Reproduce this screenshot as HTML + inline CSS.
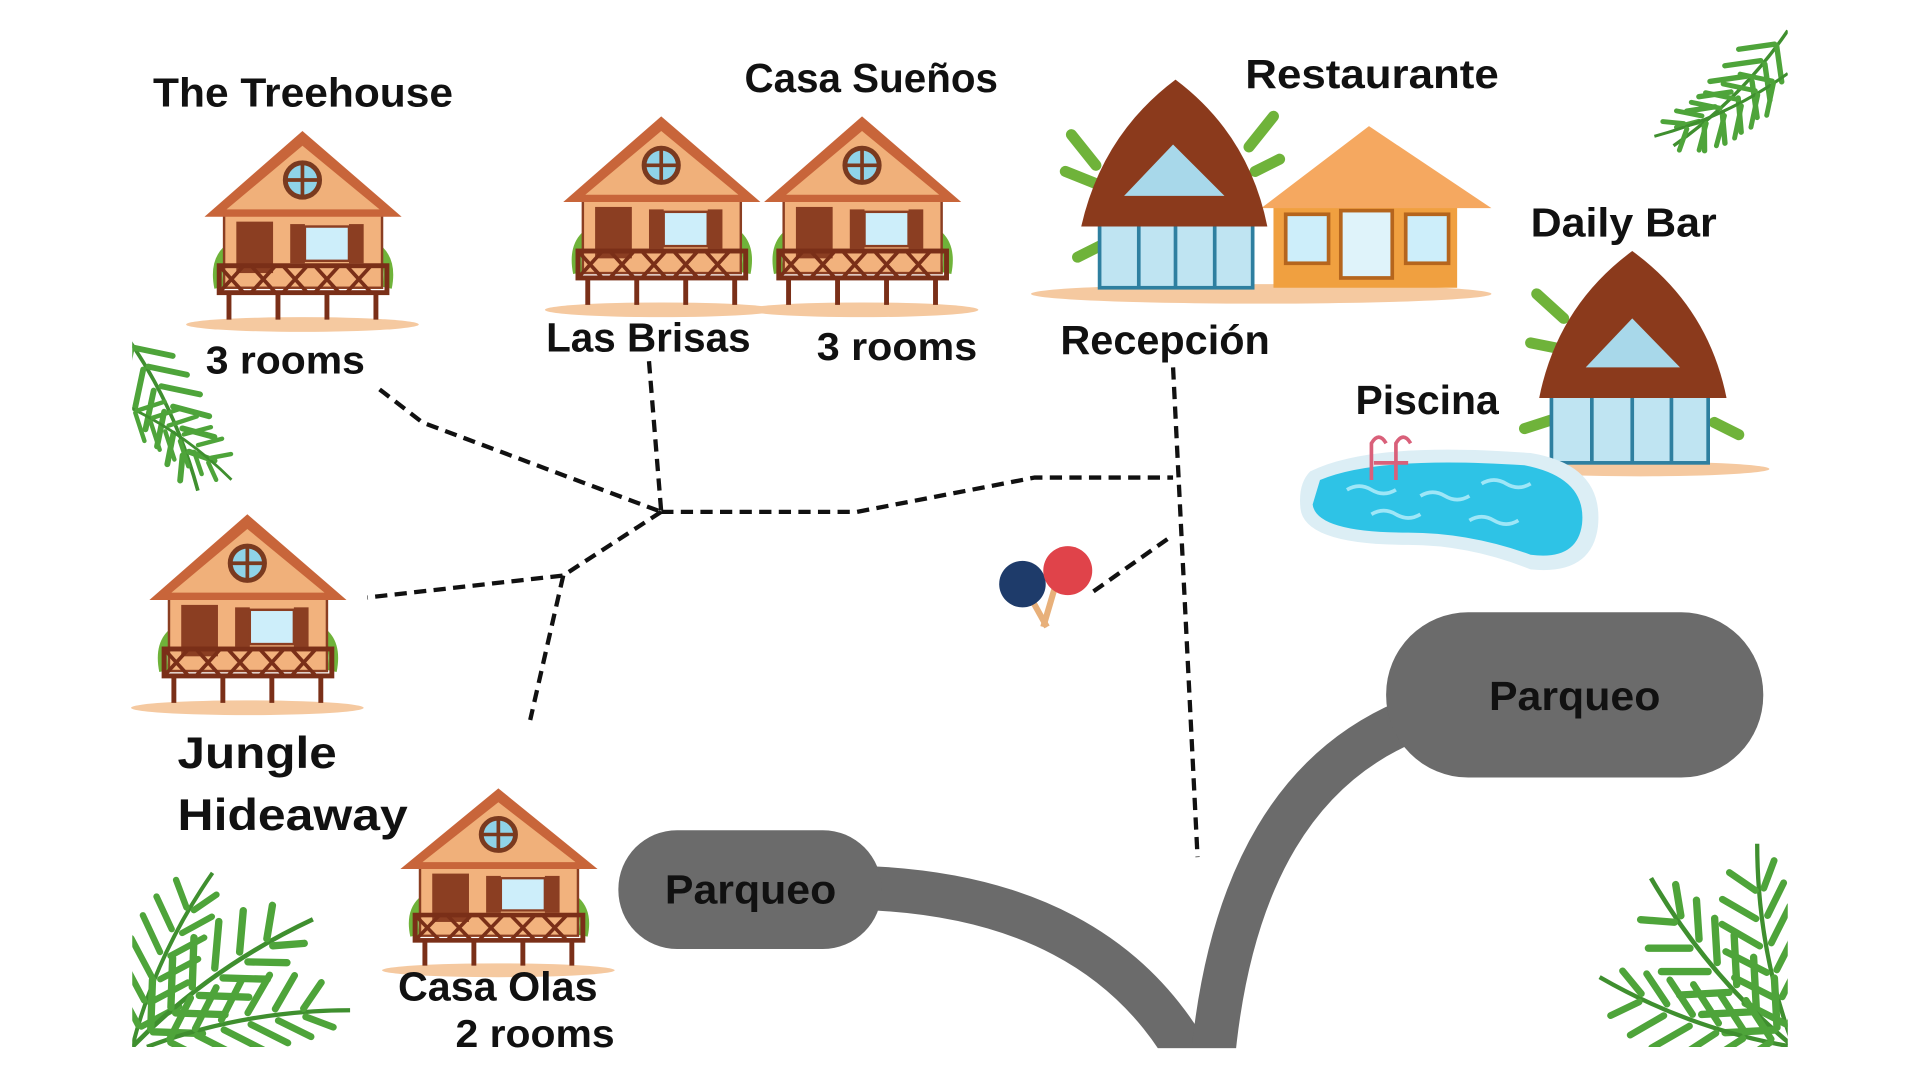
<!DOCTYPE html>
<html><head><meta charset="utf-8">
<style>
html,body{margin:0;padding:0;background:#fff;}
svg{display:block;}
text{font-family:"Liberation Sans",sans-serif;font-weight:bold;fill:#111;}
</style></head>
<body>
<svg width="1920" height="1080" viewBox="0 0 1568 882" xmlns="http://www.w3.org/2000/svg">
<defs>
  <clipPath id="frame"><rect x="108" y="20" width="1352" height="835"/></clipPath>
  <g id="house">
    <ellipse cx="82" cy="160" rx="95" ry="6" fill="#f5c9a0"/>
    <path d="M20 100 q-10 10 -6 30 M145 100 q10 10 6 30" stroke="#6fb33a" stroke-width="8" fill="none"/>
    <rect x="18" y="68" width="129" height="62" fill="#f2b27d" stroke="#8b3e22" stroke-width="2"/>
    <polygon points="82,2 2,72 163,72" fill="#c8653a"/>
    <polygon points="82,14 20,66 145,66" fill="#f0b07a"/>
    <circle cx="82" cy="42" r="14" fill="#8fd3e8" stroke="#7a3a1f" stroke-width="4"/>
    <path d="M68 42h28M82 28v28" stroke="#7a3a1f" stroke-width="3"/>
    <rect x="28" y="76" width="30" height="42" fill="#8b3e22"/>
    <rect x="72" y="78" width="12" height="32" fill="#8b3e22"/>
    <rect x="84" y="80" width="36" height="28" fill="#cdeefa" stroke="#8b3e22" stroke-width="2"/>
    <rect x="120" y="78" width="12" height="32" fill="#8b3e22"/>
    <rect x="14" y="112" width="137" height="22" fill="none" stroke="#7a2f18" stroke-width="4"/>
    <path d="M14 112l20 22M34 112l-20 22M40 112l20 22M60 112l-20 22M66 112l20 22M86 112l-20 22M92 112l20 22M112 112l-20 22M118 112l20 22M138 112l-20 22" stroke="#7a2f18" stroke-width="3"/>
    <path d="M22 134v22M62 134v22M102 134v22M142 134v22" stroke="#7a2f18" stroke-width="4"/>
  </g>
  <g id="frond">
    <path d="M0 0 Q60 -6 120 10" stroke="#3f8f2f" stroke-width="2.5" fill="none"/>
    <path d="M14 -1l18 -20M30 -3l18 -20M46 -4l18 -20M62 -4l18 -18M78 -2l16 -16M94 2l14 -12
             M14 1l20 18M30 1l20 18M46 2l20 18M62 3l18 16M78 5l16 14M94 7l14 10" stroke="#4ea43a" stroke-width="4" stroke-linecap="round"/>
  </g>
</defs>

<!-- palms -->
<g clip-path="url(#frame)">
<g transform="translate(1460,25) rotate(130) scale(1.1)"><use href="#frond"/></g>
<g transform="translate(1460,60) rotate(150)"><use href="#frond"/></g>
<g transform="translate(100,270) rotate(60) scale(1.2)"><use href="#frond"/></g>
<g transform="translate(100,330) rotate(30) scale(0.9)"><use href="#frond"/></g>
<g transform="translate(108,855) rotate(-70) scale(1.3)"><use href="#frond"/></g>
<g transform="translate(108,855) rotate(-40) scale(1.5)"><use href="#frond"/></g>
<g transform="translate(120,855) rotate(-15) scale(1.4)"><use href="#frond"/></g>
<g transform="translate(1465,855) rotate(-105) scale(1.4)"><use href="#frond"/></g>
<g transform="translate(1465,855) rotate(-135) scale(1.5)"><use href="#frond"/></g>
<g transform="translate(1465,855) rotate(-165) scale(1.4)"><use href="#frond"/></g>
</g>

<!-- houses -->
<use href="#house" x="165" y="105"/>
<use href="#house" x="458" y="93"/>
<use href="#house" x="622" y="93"/>
<use href="#house" x="120" y="418"/>
<use href="#house" transform="translate(325,642) scale(1,0.94)"/>

<!-- restaurant -->
<ellipse cx="1030" cy="240" rx="188" ry="8" fill="#f5c9a0"/>
<path d="M875 110l20 25M870 140l25 10M880 210l20-10M1040 95l-20 25M1045 130l-20 10" stroke="#6fb33a" stroke-width="9" stroke-linecap="round"/>
<rect x="1040" y="165" width="150" height="70" fill="#f0a040"/>
<polygon points="1118,103 1030,170 1218,170" fill="#f5a860"/>
<rect x="1050" y="175" width="35" height="40" fill="#cdeefa" stroke="#b5651d" stroke-width="3"/>
<rect x="1095" y="172" width="42" height="55" fill="#dff3fa" stroke="#b5651d" stroke-width="3"/>
<rect x="1148" y="175" width="35" height="40" fill="#cdeefa" stroke="#b5651d" stroke-width="3"/>
<rect x="898" y="175" width="125" height="60" fill="#bfe4f2" stroke="#2e7fa0" stroke-width="3"/>
<path d="M930 175v60M960 175v60M992 175v60" stroke="#2e7fa0" stroke-width="3"/>
<path d="M960 65 Q900 110 883 185 L1035 185 Q1020 110 960 65Z" fill="#8b3a1c"/>
<polygon points="958,118 918,160 1000,160" fill="#a8d8ea"/>
<!-- daily bar -->
<ellipse cx="1340" cy="383" rx="105" ry="6" fill="#f5c9a0"/>
<path d="M1255 240l22 20M1250 280l25 5M1245 350l25-8M1420 355l-20-10" stroke="#6fb33a" stroke-width="9" stroke-linecap="round"/>
<rect x="1267" y="318" width="128" height="60" fill="#bfe4f2" stroke="#2e7fa0" stroke-width="3"/>
<path d="M1300 318v60M1333 318v60M1365 318v60" stroke="#2e7fa0" stroke-width="3"/>
<path d="M1333 205 Q1272 250 1257 325 L1410 325 Q1395 250 1333 205Z" fill="#8b3a1c"/>
<polygon points="1333,260 1295,300 1372,300" fill="#a8d8ea"/>
<!-- pool -->
<path d="M1070 385 Q1120 360 1250 370 Q1310 380 1305 430 Q1300 470 1250 465 Q1200 445 1150 445 Q1065 445 1062 415 Q1060 395 1070 385Z" fill="#dceef5"/>
<path d="M1078 392 Q1125 372 1245 380 Q1296 390 1292 428 Q1288 458 1250 453 Q1200 435 1150 435 Q1075 435 1072 412Z" fill="#2ec3e6"/>
<path d="M1100 400q10-6 20 0q10 6 20 0M1160 405q10-6 20 0q10 6 20 0M1210 395q10-6 20 0q10 6 20 0M1120 420q10-6 20 0q10 6 20 0M1200 425q10-6 20 0q10 6 20 0" stroke="#9ee6f7" stroke-width="3" fill="none"/>
<path d="M1120 392v-30q6-10 12 0M1140 392v-30q6-10 12 0M1122 378h28" stroke="#d9607a" stroke-width="3" fill="none"/>
<!-- paddles -->
<line x1="840" y1="485" x2="855" y2="512" stroke="#e8b07a" stroke-width="5"/>
<line x1="862" y1="478" x2="852" y2="512" stroke="#e8b07a" stroke-width="5"/>
<circle cx="835" cy="477" r="19" fill="#1e3b6a"/>
<circle cx="872" cy="466" r="20" fill="#e0434a"/>

<!-- dashed connectors -->
<g stroke="#111" stroke-width="3.5" stroke-dasharray="10,6" fill="none">
  <path d="M310 318 L345 345 L540 418"/>
  <path d="M530 295 L540 418"/>
  <path d="M540 418 L700 418 L845 390 L958 390"/>
  <path d="M958 300 L978 700"/>
  <path d="M540 418 L460 470 L300 488"/>
  <path d="M460 470 L433 588"/>
  <path d="M893 483 L958 437"/>
</g>

<!-- parqueo -->
<g fill="none" stroke="#6b6b6b" stroke-width="36">
  <path d="M700 725 Q900 730 975 870"/>
  <path d="M1160 585 Q1010 640 990 870"/>
</g>
<rect x="1132" y="500" width="308" height="135" rx="67" fill="#6b6b6b"/>
<rect x="505" y="678" width="215" height="97" rx="48" fill="#6b6b6b"/>
<rect x="0" y="856" width="1568" height="26" fill="#fff"/>

<!-- labels -->
<g lengthAdjust="spacingAndGlyphs">
<text x="125" y="87" font-size="33" textLength="245" lengthAdjust="spacingAndGlyphs">The Treehouse</text>
<text x="608" y="75" font-size="33" textLength="207" lengthAdjust="spacingAndGlyphs">Casa Sueños</text>
<text x="1017" y="72" font-size="33" textLength="207" lengthAdjust="spacingAndGlyphs">Restaurante</text>
<text x="1250" y="193" font-size="33" textLength="152" lengthAdjust="spacingAndGlyphs">Daily Bar</text>
<text x="168" y="305" font-size="32" textLength="130" lengthAdjust="spacingAndGlyphs">3 rooms</text>
<text x="446" y="287" font-size="33" textLength="167" lengthAdjust="spacingAndGlyphs">Las Brisas</text>
<text x="667" y="294" font-size="32" textLength="131" lengthAdjust="spacingAndGlyphs">3 rooms</text>
<text x="866" y="289" font-size="33" textLength="171" lengthAdjust="spacingAndGlyphs">Recepción</text>
<text x="1107" y="338" font-size="33" textLength="117" lengthAdjust="spacingAndGlyphs">Piscina</text>
<text x="145" y="627" font-size="36" textLength="130" lengthAdjust="spacingAndGlyphs">Jungle</text>
<text x="145" y="678" font-size="36" textLength="188" lengthAdjust="spacingAndGlyphs">Hideaway</text>
<text x="325" y="817" font-size="33" textLength="163" lengthAdjust="spacingAndGlyphs">Casa Olas</text>
<text x="372" y="855" font-size="32" textLength="130" lengthAdjust="spacingAndGlyphs">2 rooms</text>
<text x="543" y="738" font-size="33" textLength="140" lengthAdjust="spacingAndGlyphs">Parqueo</text>
<text x="1216" y="580" font-size="33" textLength="140" lengthAdjust="spacingAndGlyphs">Parqueo</text>
</g>
</svg>
</body></html>
